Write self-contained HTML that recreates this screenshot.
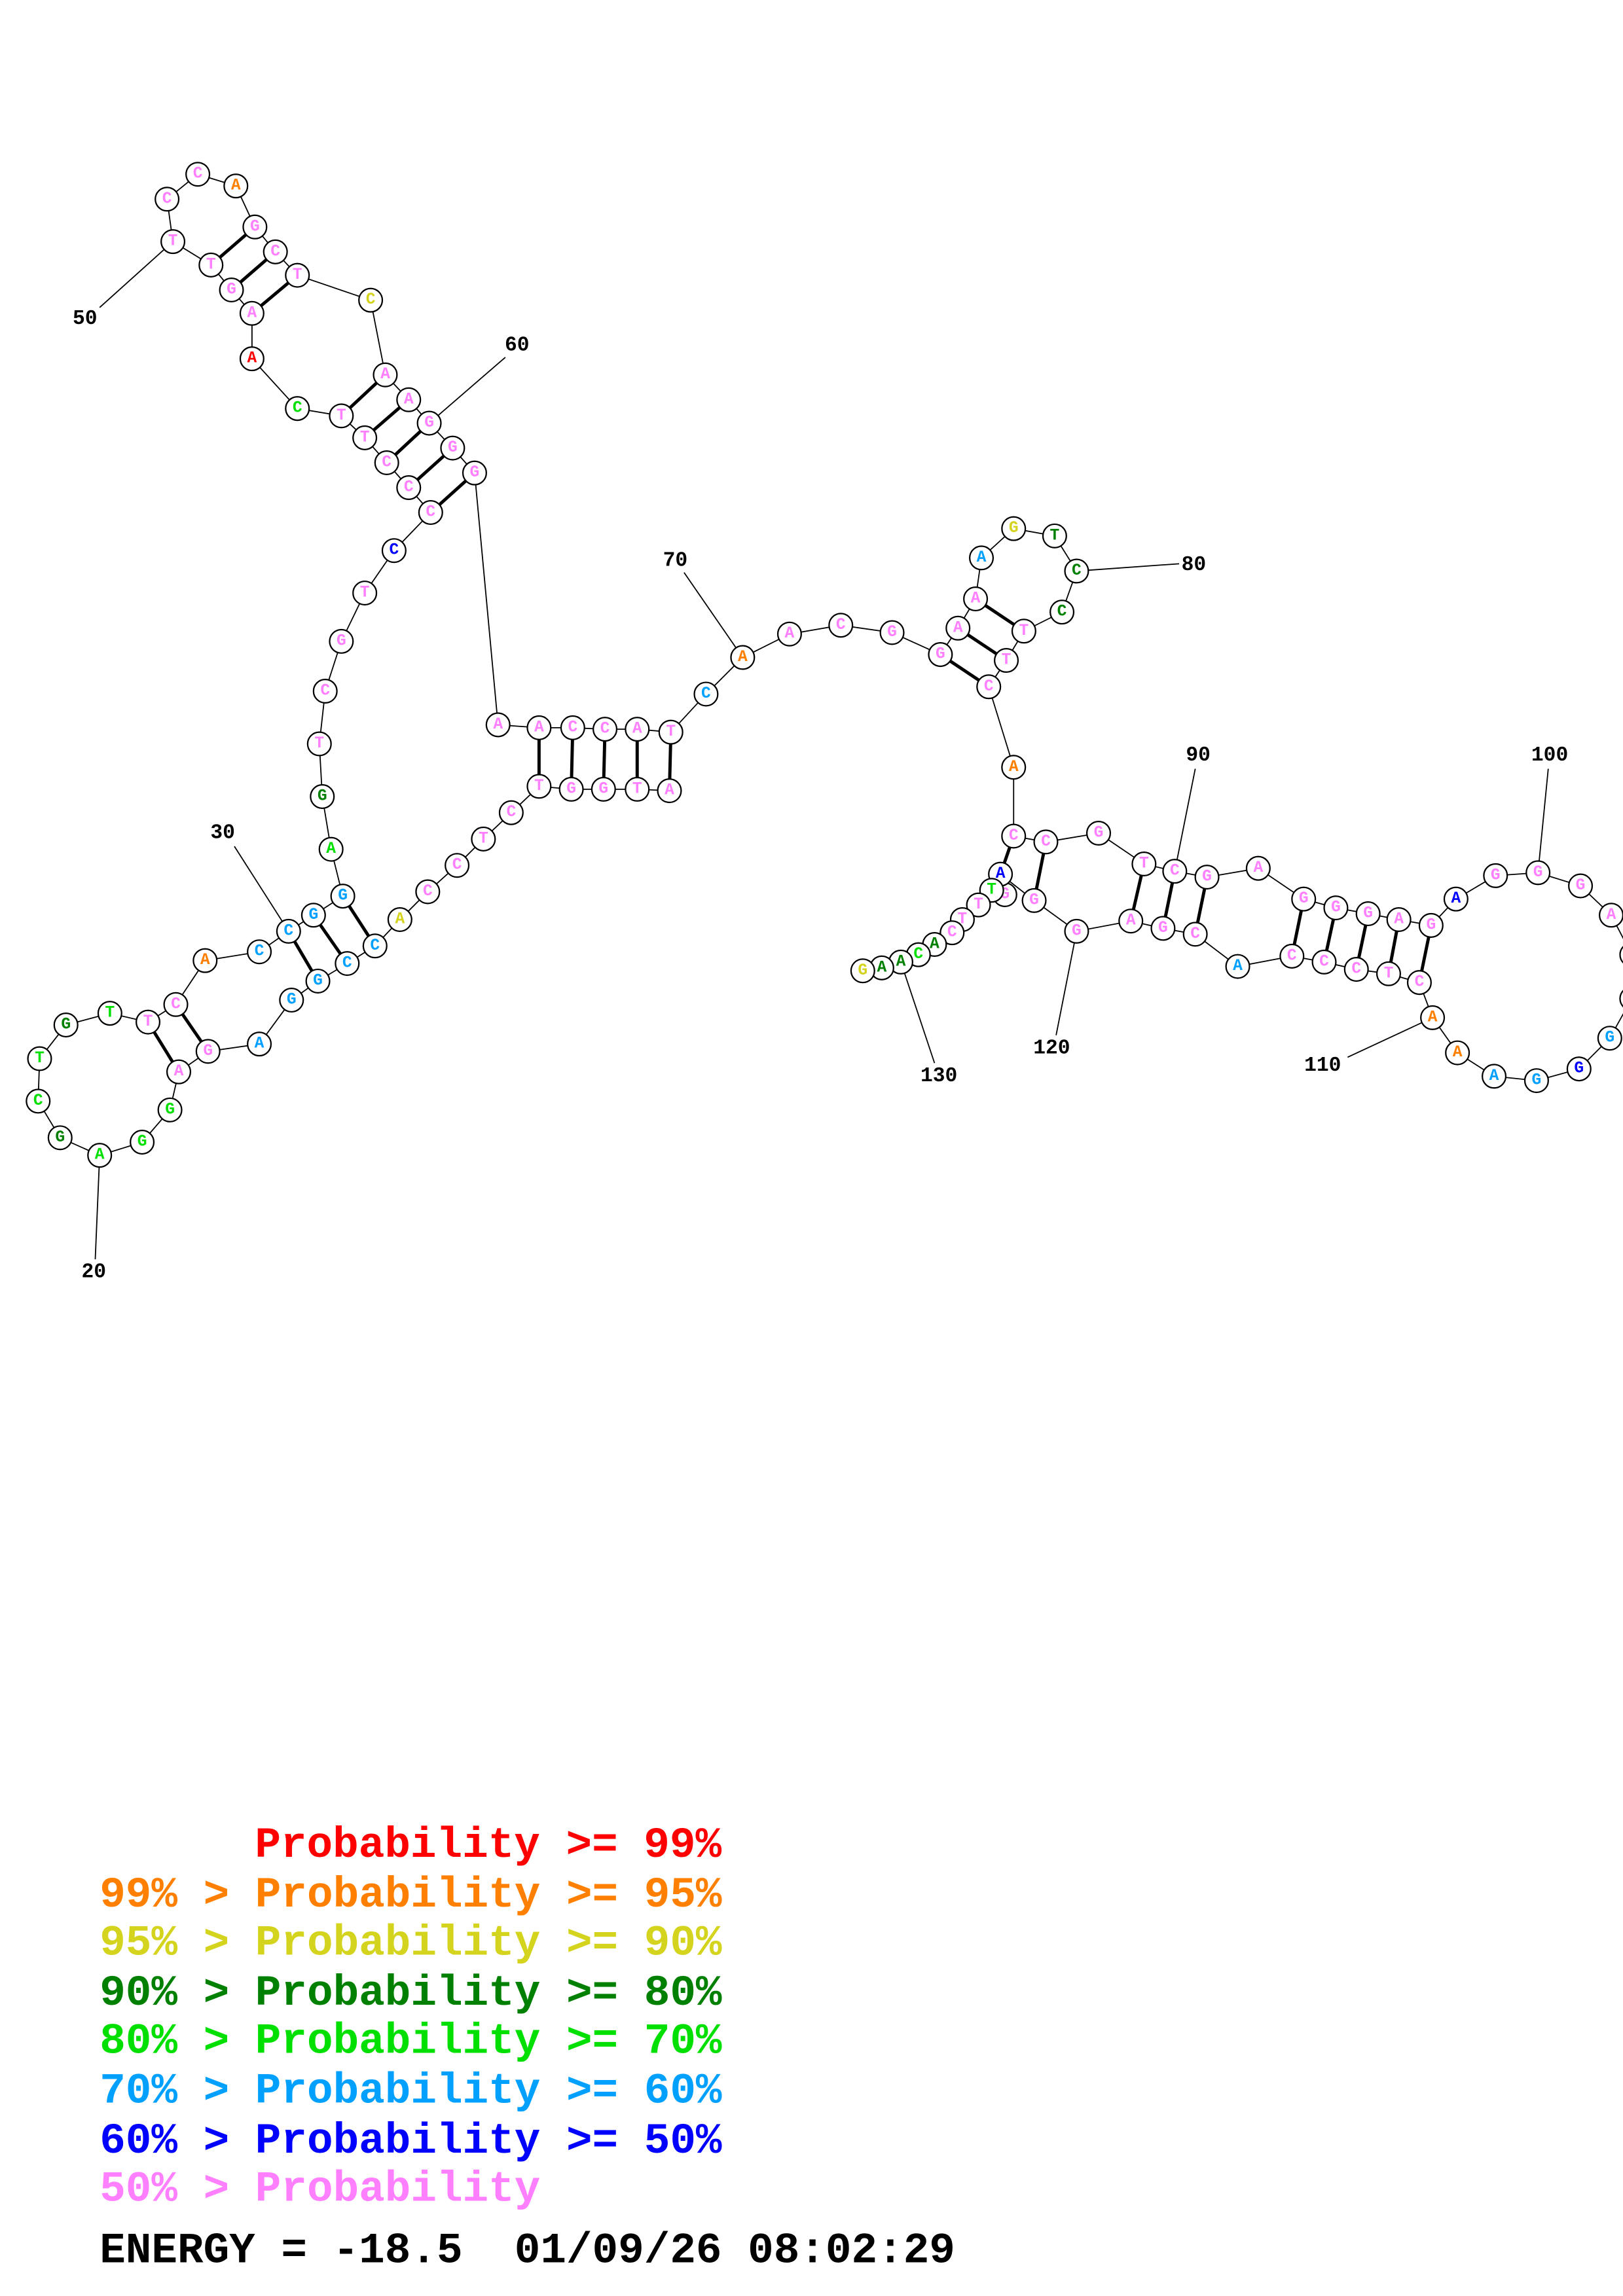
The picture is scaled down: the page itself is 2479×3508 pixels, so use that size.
<!DOCTYPE html>
<html><head><meta charset="utf-8"><style>
html,body{margin:0;padding:0;background:#fff;}
svg{display:block}
.n circle{fill:#fff;stroke:#000;stroke-width:1}
.n text{font-family:"Liberation Mono",monospace;font-weight:bold;font-size:11px;text-anchor:middle;dominant-baseline:central}
.lb{font-family:"Liberation Mono",monospace;font-weight:bold;font-size:14px;text-anchor:middle;dominant-baseline:central}
.lg{font-family:"Liberation Mono",monospace;font-weight:bold;font-size:29.5px}
.p{fill:#ff80ff}.o{fill:#ff8000}.y{fill:#d4d41e}.d{fill:#008000}.g{fill:#00e000}.c{fill:#00a0ff}.b{fill:#0000ff}.r{fill:#ff0000}
</style></head><body>
<svg width="2479" height="3508" viewBox="0 0 1108 1568" xmlns="http://www.w3.org/2000/svg">
<rect width="1108" height="1568" fill="#fff"/>
<polyline fill="none" stroke="#000" stroke-width="0.8" points="457,540 435,539 412,539 390,539 368,537 349,555 330,573 312,591 292,609 273,628 256,646 237,658 217,670 199,683 177,713 142,718 122,732 116,758 97,780 68,789 41,777 26,752 27,723 45,700 75,692 101,698 120,686 140,656 177,650 197,636 214,625 234,612 226,580 220,544 218,508 222,472 233,438 249,405 269,376 294,350 279,333 264,316 249,299 233,284 203,279 172,245 172,214 158,198 144,181 118,165 114,136 135,119 161,127 174,155 188,172 203,188 253,205 263,256 279,273 293,289 309,306 324,323 340,495 368,497 391,497 413,498 435,498 458,500 482,474 507,449 539,433 574,427 609,432 642,447 654,429 666,409 670,381 692,361 720,366 735,390 725,418 699,431 687,451 675,469 692,524 692,571 714,575 750,569 781,590 802,595 824,599 859,593 890,614 912,620 934,624 955,628 977,632 994,614 1021,598 1050,596 1079,605 1100,625 1114,652 1114,682 1099,709 1078,730 1049,738 1020,735 995,719 978,695 969,671 948,665 926,662 904,657 882,653 845,660 816,638 794,634 772,629 735,636 706,615 683,597 686,611 677,608 668,618 657,628 650,637 638,645 627,652 615,657 602,661 589,663"/>
<g stroke="#000" stroke-width="2.2">
<line x1="457" y1="540" x2="458" y2="500"/><line x1="435" y1="539" x2="435" y2="498"/><line x1="412" y1="539" x2="413" y2="498"/><line x1="390" y1="539" x2="391" y2="497"/><line x1="368" y1="537" x2="368" y2="497"/>
<line x1="197" y1="636" x2="217" y2="670"/><line x1="214" y1="625" x2="237" y2="658"/><line x1="234" y1="612" x2="256" y2="646"/>
<line x1="101" y1="698" x2="122" y2="732"/><line x1="120" y1="686" x2="142" y2="718"/>
<line x1="144" y1="181" x2="174" y2="155"/><line x1="158" y1="198" x2="188" y2="172"/><line x1="172" y1="214" x2="203" y2="188"/>
<line x1="233" y1="284" x2="263" y2="256"/><line x1="249" y1="299" x2="279" y2="273"/><line x1="264" y1="316" x2="293" y2="289"/><line x1="279" y1="333" x2="309" y2="306"/><line x1="294" y1="350" x2="324" y2="323"/>
<line x1="642" y1="447" x2="675" y2="469"/><line x1="654" y1="429" x2="687" y2="451"/><line x1="666" y1="409" x2="699" y2="431"/>
<line x1="692" y1="571" x2="683" y2="597"/><line x1="714" y1="575" x2="706" y2="615"/>
<line x1="781" y1="590" x2="772" y2="629"/><line x1="802" y1="595" x2="794" y2="634"/><line x1="824" y1="599" x2="816" y2="638"/>
<line x1="890" y1="614" x2="882" y2="653"/><line x1="912" y1="620" x2="904" y2="657"/><line x1="934" y1="624" x2="926" y2="662"/><line x1="955" y1="628" x2="948" y2="665"/><line x1="977" y1="632" x2="969" y2="671"/>
</g>
<g stroke="#000" stroke-width="0.8">
<line x1="68" y1="789" x2="65" y2="860"/><line x1="197" y1="636" x2="160" y2="578"/><line x1="118" y1="165" x2="68" y2="210"/><line x1="293" y1="289" x2="345" y2="244"/><line x1="507" y1="449" x2="467" y2="391"/><line x1="735" y1="390" x2="805" y2="385"/><line x1="802" y1="595" x2="816" y2="525"/><line x1="1050" y1="596" x2="1057" y2="525"/><line x1="978" y1="695" x2="920" y2="722"/><line x1="735" y1="636" x2="721" y2="707"/><line x1="615" y1="657" x2="638" y2="726"/>
</g>
<g class="lb"><text x="64" y="869">20</text><text x="152" y="569">30</text><text x="58" y="218">50</text><text x="353" y="236">60</text><text x="461" y="383">70</text><text x="815" y="386">80</text><text x="818" y="516">90</text><text x="1058" y="516">100</text><text x="903" y="728">110</text><text x="718" y="716">120</text><text x="641" y="735">130</text></g>
<g class="n">
<circle cx="457" cy="540" r="8"/><text x="457" y="540" class="p">A</text>
<circle cx="435" cy="539" r="8"/><text x="435" y="539" class="p">T</text>
<circle cx="412" cy="539" r="8"/><text x="412" y="539" class="p">G</text>
<circle cx="390" cy="539" r="8"/><text x="390" y="539" class="p">G</text>
<circle cx="368" cy="537" r="8"/><text x="368" y="537" class="p">T</text>
<circle cx="349" cy="555" r="8"/><text x="349" y="555" class="p">C</text>
<circle cx="330" cy="573" r="8"/><text x="330" y="573" class="p">T</text>
<circle cx="312" cy="591" r="8"/><text x="312" y="591" class="p">C</text>
<circle cx="292" cy="609" r="8"/><text x="292" y="609" class="p">C</text>
<circle cx="273" cy="628" r="8"/><text x="273" y="628" class="y">A</text>
<circle cx="256" cy="646" r="8"/><text x="256" y="646" class="c">C</text>
<circle cx="237" cy="658" r="8"/><text x="237" y="658" class="c">C</text>
<circle cx="217" cy="670" r="8"/><text x="217" y="670" class="c">G</text>
<circle cx="199" cy="683" r="8"/><text x="199" y="683" class="c">G</text>
<circle cx="177" cy="713" r="8"/><text x="177" y="713" class="c">A</text>
<circle cx="142" cy="718" r="8"/><text x="142" y="718" class="p">G</text>
<circle cx="122" cy="732" r="8"/><text x="122" y="732" class="p">A</text>
<circle cx="116" cy="758" r="8"/><text x="116" y="758" class="g">G</text>
<circle cx="97" cy="780" r="8"/><text x="97" y="780" class="g">G</text>
<circle cx="68" cy="789" r="8"/><text x="68" y="789" class="g">A</text>
<circle cx="41" cy="777" r="8"/><text x="41" y="777" class="d">G</text>
<circle cx="26" cy="752" r="8"/><text x="26" y="752" class="g">C</text>
<circle cx="27" cy="723" r="8"/><text x="27" y="723" class="g">T</text>
<circle cx="45" cy="700" r="8"/><text x="45" y="700" class="d">G</text>
<circle cx="75" cy="692" r="8"/><text x="75" y="692" class="g">T</text>
<circle cx="101" cy="698" r="8"/><text x="101" y="698" class="p">T</text>
<circle cx="120" cy="686" r="8"/><text x="120" y="686" class="p">C</text>
<circle cx="140" cy="656" r="8"/><text x="140" y="656" class="o">A</text>
<circle cx="177" cy="650" r="8"/><text x="177" y="650" class="c">C</text>
<circle cx="197" cy="636" r="8"/><text x="197" y="636" class="c">C</text>
<circle cx="214" cy="625" r="8"/><text x="214" y="625" class="c">G</text>
<circle cx="234" cy="612" r="8"/><text x="234" y="612" class="c">G</text>
<circle cx="226" cy="580" r="8"/><text x="226" y="580" class="g">A</text>
<circle cx="220" cy="544" r="8"/><text x="220" y="544" class="d">G</text>
<circle cx="218" cy="508" r="8"/><text x="218" y="508" class="p">T</text>
<circle cx="222" cy="472" r="8"/><text x="222" y="472" class="p">C</text>
<circle cx="233" cy="438" r="8"/><text x="233" y="438" class="p">G</text>
<circle cx="249" cy="405" r="8"/><text x="249" y="405" class="p">T</text>
<circle cx="269" cy="376" r="8"/><text x="269" y="376" class="b">C</text>
<circle cx="294" cy="350" r="8"/><text x="294" y="350" class="p">C</text>
<circle cx="279" cy="333" r="8"/><text x="279" y="333" class="p">C</text>
<circle cx="264" cy="316" r="8"/><text x="264" y="316" class="p">C</text>
<circle cx="249" cy="299" r="8"/><text x="249" y="299" class="p">T</text>
<circle cx="233" cy="284" r="8"/><text x="233" y="284" class="p">T</text>
<circle cx="203" cy="279" r="8"/><text x="203" y="279" class="g">C</text>
<circle cx="172" cy="245" r="8"/><text x="172" y="245" class="r">A</text>
<circle cx="172" cy="214" r="8"/><text x="172" y="214" class="p">A</text>
<circle cx="158" cy="198" r="8"/><text x="158" y="198" class="p">G</text>
<circle cx="144" cy="181" r="8"/><text x="144" y="181" class="p">T</text>
<circle cx="118" cy="165" r="8"/><text x="118" y="165" class="p">T</text>
<circle cx="114" cy="136" r="8"/><text x="114" y="136" class="p">C</text>
<circle cx="135" cy="119" r="8"/><text x="135" y="119" class="p">C</text>
<circle cx="161" cy="127" r="8"/><text x="161" y="127" class="o">A</text>
<circle cx="174" cy="155" r="8"/><text x="174" y="155" class="p">G</text>
<circle cx="188" cy="172" r="8"/><text x="188" y="172" class="p">C</text>
<circle cx="203" cy="188" r="8"/><text x="203" y="188" class="p">T</text>
<circle cx="253" cy="205" r="8"/><text x="253" y="205" class="y">C</text>
<circle cx="263" cy="256" r="8"/><text x="263" y="256" class="p">A</text>
<circle cx="279" cy="273" r="8"/><text x="279" y="273" class="p">A</text>
<circle cx="293" cy="289" r="8"/><text x="293" y="289" class="p">G</text>
<circle cx="309" cy="306" r="8"/><text x="309" y="306" class="p">G</text>
<circle cx="324" cy="323" r="8"/><text x="324" y="323" class="p">G</text>
<circle cx="340" cy="495" r="8"/><text x="340" y="495" class="p">A</text>
<circle cx="368" cy="497" r="8"/><text x="368" y="497" class="p">A</text>
<circle cx="391" cy="497" r="8"/><text x="391" y="497" class="p">C</text>
<circle cx="413" cy="498" r="8"/><text x="413" y="498" class="p">C</text>
<circle cx="435" cy="498" r="8"/><text x="435" y="498" class="p">A</text>
<circle cx="458" cy="500" r="8"/><text x="458" y="500" class="p">T</text>
<circle cx="482" cy="474" r="8"/><text x="482" y="474" class="c">C</text>
<circle cx="507" cy="449" r="8"/><text x="507" y="449" class="o">A</text>
<circle cx="539" cy="433" r="8"/><text x="539" y="433" class="p">A</text>
<circle cx="574" cy="427" r="8"/><text x="574" y="427" class="p">C</text>
<circle cx="609" cy="432" r="8"/><text x="609" y="432" class="p">G</text>
<circle cx="642" cy="447" r="8"/><text x="642" y="447" class="p">G</text>
<circle cx="654" cy="429" r="8"/><text x="654" y="429" class="p">A</text>
<circle cx="666" cy="409" r="8"/><text x="666" y="409" class="p">A</text>
<circle cx="670" cy="381" r="8"/><text x="670" y="381" class="c">A</text>
<circle cx="692" cy="361" r="8"/><text x="692" y="361" class="y">G</text>
<circle cx="720" cy="366" r="8"/><text x="720" y="366" class="d">T</text>
<circle cx="735" cy="390" r="8"/><text x="735" y="390" class="d">C</text>
<circle cx="725" cy="418" r="8"/><text x="725" y="418" class="d">C</text>
<circle cx="699" cy="431" r="8"/><text x="699" y="431" class="p">T</text>
<circle cx="687" cy="451" r="8"/><text x="687" y="451" class="p">T</text>
<circle cx="675" cy="469" r="8"/><text x="675" y="469" class="p">C</text>
<circle cx="692" cy="524" r="8"/><text x="692" y="524" class="o">A</text>
<circle cx="692" cy="571" r="8"/><text x="692" y="571" class="p">C</text>
<circle cx="714" cy="575" r="8"/><text x="714" y="575" class="p">C</text>
<circle cx="750" cy="569" r="8"/><text x="750" y="569" class="p">G</text>
<circle cx="781" cy="590" r="8"/><text x="781" y="590" class="p">T</text>
<circle cx="802" cy="595" r="8"/><text x="802" y="595" class="p">C</text>
<circle cx="824" cy="599" r="8"/><text x="824" y="599" class="p">G</text>
<circle cx="859" cy="593" r="8"/><text x="859" y="593" class="p">A</text>
<circle cx="890" cy="614" r="8"/><text x="890" y="614" class="p">G</text>
<circle cx="912" cy="620" r="8"/><text x="912" y="620" class="p">G</text>
<circle cx="934" cy="624" r="8"/><text x="934" y="624" class="p">G</text>
<circle cx="955" cy="628" r="8"/><text x="955" y="628" class="p">A</text>
<circle cx="977" cy="632" r="8"/><text x="977" y="632" class="p">G</text>
<circle cx="994" cy="614" r="8"/><text x="994" y="614" class="b">A</text>
<circle cx="1021" cy="598" r="8"/><text x="1021" y="598" class="p">G</text>
<circle cx="1050" cy="596" r="8"/><text x="1050" y="596" class="p">G</text>
<circle cx="1079" cy="605" r="8"/><text x="1079" y="605" class="p">G</text>
<circle cx="1100" cy="625" r="8"/><text x="1100" y="625" class="p">A</text>
<circle cx="1114" cy="652" r="8"/><text x="1114" y="652" class="p">G</text>
<circle cx="1114" cy="682" r="8"/><text x="1114" y="682" class="p">C</text>
<circle cx="1099" cy="709" r="8"/><text x="1099" y="709" class="c">G</text>
<circle cx="1078" cy="730" r="8"/><text x="1078" y="730" class="b">G</text>
<circle cx="1049" cy="738" r="8"/><text x="1049" y="738" class="c">G</text>
<circle cx="1020" cy="735" r="8"/><text x="1020" y="735" class="c">A</text>
<circle cx="995" cy="719" r="8"/><text x="995" y="719" class="o">A</text>
<circle cx="978" cy="695" r="8"/><text x="978" y="695" class="o">A</text>
<circle cx="969" cy="671" r="8"/><text x="969" y="671" class="p">C</text>
<circle cx="948" cy="665" r="8"/><text x="948" y="665" class="p">T</text>
<circle cx="926" cy="662" r="8"/><text x="926" y="662" class="p">C</text>
<circle cx="904" cy="657" r="8"/><text x="904" y="657" class="p">C</text>
<circle cx="882" cy="653" r="8"/><text x="882" y="653" class="p">C</text>
<circle cx="845" cy="660" r="8"/><text x="845" y="660" class="c">A</text>
<circle cx="816" cy="638" r="8"/><text x="816" y="638" class="p">C</text>
<circle cx="794" cy="634" r="8"/><text x="794" y="634" class="p">G</text>
<circle cx="772" cy="629" r="8"/><text x="772" y="629" class="p">A</text>
<circle cx="735" cy="636" r="8"/><text x="735" y="636" class="p">G</text>
<circle cx="706" cy="615" r="8"/><text x="706" y="615" class="p">G</text>
<circle cx="686" cy="611" r="8"/><text x="686" y="611" class="p">G</text>
<circle cx="683" cy="597" r="8"/><text x="683" y="597" class="b">A</text>
<circle cx="677" cy="608" r="8"/><text x="677" y="608" class="g">T</text>
<circle cx="668" cy="618" r="8"/><text x="668" y="618" class="p">T</text>
<circle cx="657" cy="628" r="8"/><text x="657" y="628" class="p">T</text>
<circle cx="650" cy="637" r="8"/><text x="650" y="637" class="p">C</text>
<circle cx="638" cy="645" r="8"/><text x="638" y="645" class="d">A</text>
<circle cx="627" cy="652" r="8"/><text x="627" y="652" class="g">C</text>
<circle cx="615" cy="657" r="8"/><text x="615" y="657" class="d">A</text>
<circle cx="602" cy="661" r="8"/><text x="602" y="661" class="d">A</text>
<circle cx="589" cy="663" r="8"/><text x="589" y="663" class="y">G</text>
</g>
<g class="lg" xml:space="preserve">
<text x="174" y="1268" class="r">Probability &gt;= 99%</text>
<text x="68" y="1302" class="o">99% &gt; Probability &gt;= 95%</text>
<text x="68" y="1335" class="y">95% &gt; Probability &gt;= 90%</text>
<text x="68" y="1369" class="d">90% &gt; Probability &gt;= 80%</text>
<text x="68" y="1402" class="g">80% &gt; Probability &gt;= 70%</text>
<text x="68" y="1436" class="c">70% &gt; Probability &gt;= 60%</text>
<text x="68" y="1470" class="b">60% &gt; Probability &gt;= 50%</text>
<text x="68" y="1503" class="p">50% &gt; Probability</text>
<text x="68" y="1545" fill="#000" xml:space="preserve">ENERGY = -18.5  01/09/26 08:02:29</text>
</g>
</svg>
</body></html>
